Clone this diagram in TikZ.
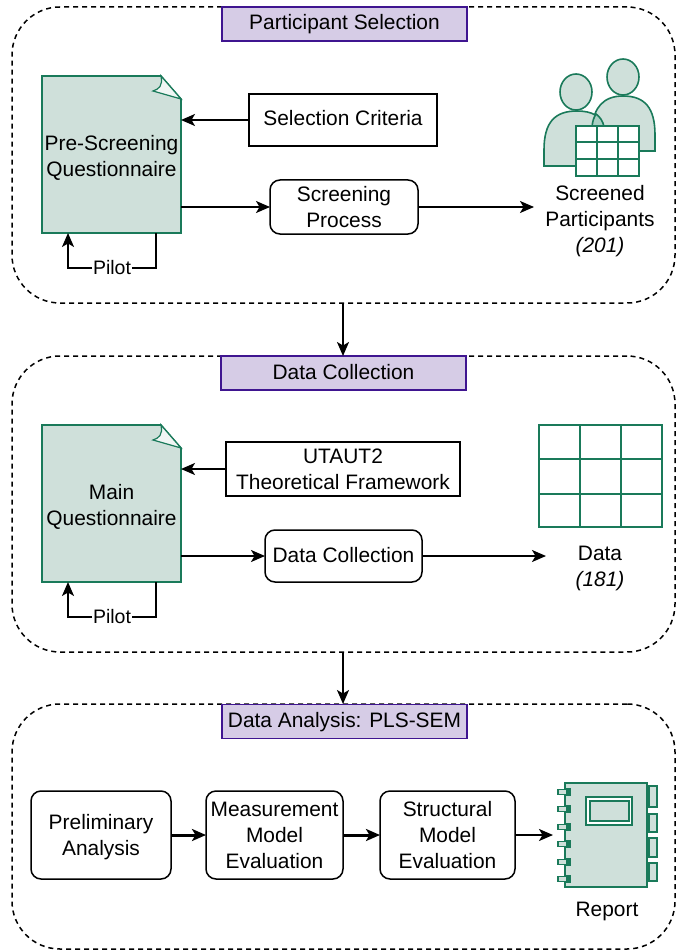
\documentclass[tikz,border=0pt]{standalone}
\usepackage{fontspec}
\setmainfont{Liberation Sans}
\usetikzlibrary{arrows.meta,calc,backgrounds}
\definecolor{leaf}{HTML}{CFE0DA}
\definecolor{leafdark}{HTML}{A9CFC3}
\definecolor{pine}{HTML}{1A7A5A}
\definecolor{lilac}{HTML}{D6CCE6}
\definecolor{violet}{HTML}{3F1590}
\tikzset{
  every node/.style={font=\fontsize{20.9}{26}\selectfont,inner sep=0pt,outer sep=0pt,align=center},
  oneline/.style={text height=15pt,text depth=3pt},
  group/.style={draw,dashed,dash pattern=on 5pt off 4pt,line width=1.5pt,rounded corners=48pt,minimum width=663pt},
  title/.style={oneline,draw=violet,fill=lilac,line width=1.5pt,minimum height=34pt},
  plainbox/.style={draw,line width=1.5pt,fill=white},
  softbox/.style={plainbox,rounded corners=10pt},
  docbox/.style={minimum width=139pt,minimum height=157pt},
  link/.style={-{Stealth[length=14pt,width=12pt,inset=3.5pt]},line width=1.7pt},
  biglink/.style={link,line width=3pt},
  pineline/.style={draw=pine,line width=1.6pt},
}
\newcommand{\docshape}[1]{
  \begin{scope}[on background layer]
    \filldraw[pineline,fill=leaf,line join=miter]
      (#1.north west) -- ($(#1.north east)+(-20,0)$) -- ($(#1.north east)+(0,23)$)
      -- (#1.south east) -- (#1.south west) -- cycle;
    \filldraw[pineline,fill=white!70!leaf,line width=1.2pt]
      ($(#1.north east)+(-20,0)$) .. controls ($(#1.north east)+(-18,10)$) and ($(#1.north east)+(-22,13)$) .. ($(#1.north east)+(-28,15)$)
      -- ($(#1.north east)+(0,23)$) -- cycle;
  \end{scope}
}
\begin{document}
\begin{tikzpicture}[x=1pt,y=-1pt]
  \useasboundingbox (0,0) rectangle (686,952);
  % groups
  \node[group,minimum height=296pt] (select) at (343.5,155) {};
  \node[group,minimum height=296pt] (collect) at (343.5,504) {};
  \node[group,minimum height=245pt] (analyse) at (343.5,826.5) {};
  \node[title,minimum width=245pt] (t1) at (344.5,24) {Participant Selection};
  \node[title,minimum width=245pt] (t2) at (343.5,373) {Data Collection};
  \node[title,minimum width=245pt] (t3) at (344.5,721.5) {Data Analysis: PLS-SEM};
  \draw[link] ([xshift=-.5pt]select.south) -- ([xshift=-.5pt]collect.north);
  \draw[link] ([xshift=-.5pt]collect.south) -- ([xshift=-.5pt]analyse.north);

  % first group
  \node[docbox,label={[yshift=-3pt]center:Pre-Screening\\Questionnaire}] (pre) at (111.5,154.5) {};
  \docshape{pre}
  \node[plainbox,oneline,minimum width=188pt,minimum height=52pt] (criteria) at (343,120) {Selection Criteria};
  \node[softbox,minimum width=148pt,minimum height=54pt] (screen) at (344,207) {Screening\\Process};
  \node (pilota) [fill=white,inner xsep=1pt,inner ysep=0pt] at (112,268) {\fontsize{19.5}{22}\selectfont Pilot};
  \node (screened) at (600,221) {Screened\\Participants\\\textit{(201)}};
  \coordinate (sink1) at (534,207);
  \draw[link] (criteria) -- (pre.east |- criteria);
  \draw[link] (pre.east |- screen) -- (screen);
  \draw[link] (screen) -- (sink1);
  \draw[link] ([xshift=44.5pt]pre.south) |- (pilota) -| ([xshift=-43.5pt]pre.south);

  % people with table
  \begin{scope}[pineline]
    \filldraw[fill=leaf] (655,151) -- (655,135) .. controls (655,108) and (645,96) .. (623,96)
      .. controls (603,96) and (594,108) .. (592,127) -- (592,151) -- cycle;
    \filldraw[fill=leaf] (623,77) ellipse (16 and 18);
    \filldraw[fill=leaf] (544,166) -- (544,150) .. controls (544,122) and (555,111) .. (577,111)
      .. controls (592,111) and (601,116) .. (604,127) -- (604,166) -- cycle;
    \filldraw[fill=leafdark] (592,127) .. controls (592.5,121) and (594,117) .. (596,114)
      .. controls (600,117) and (603,121) .. (604,127) -- cycle;
    \filldraw[fill=leaf] (576,92) ellipse (16 and 18);
    \filldraw[fill=white] (576,126) rectangle (639,176);
    \foreach \gridx in {597,618} \draw (\gridx,126) -- (\gridx,176);
    \foreach \gridy in {142,159} \draw (576,\gridy) -- (639,\gridy);
  \end{scope}

  % second group
  \node[docbox,label={[yshift=-3pt]center:Main\\Questionnaire}] (main) at (111.5,503.5) {};
  \docshape{main}
  \node[plainbox,minimum width=234pt,minimum height=54pt] (utaut) at (343,469) {UTAUT2\\Theoretical Framework};
  \node[softbox,oneline,minimum width=157pt,minimum height=52pt] (gather) at (343.5,556) {Data Collection};
  \node (pilotb) [fill=white,inner xsep=1pt,inner ysep=0pt] at (112,617) {\fontsize{19.5}{22}\selectfont Pilot};
  \node (data) at (600,568) {Data\\\textit{(181)}};
  \coordinate (sink2) at (546,556);
  \draw[link] (utaut) -- (main.east |- utaut);
  \draw[link] (main.east |- gather) -- (gather);
  \draw[link] (gather) -- (sink2);
  \draw[link] ([xshift=44.5pt]main.south) |- (pilotb) -| ([xshift=-43.5pt]main.south);

  % data table
  \begin{scope}[pineline]
    \draw (539,425) rectangle (662,527);
    \foreach \gridx in {580,621} \draw (\gridx,425) -- (\gridx,527);
    \foreach \gridy in {459,494} \draw (539,\gridy) -- (662,\gridy);
  \end{scope}

  % third group
  \node[softbox,minimum width=140pt,minimum height=88pt,label={[yshift=-2pt]center:Preliminary\\Analysis}] (prelim) at (101,835) {};
  \node[softbox,minimum width=137pt,minimum height=88pt] (measure) at (274.5,835) {Measurement\\Model\\Evaluation};
  \node[softbox,minimum width=135pt,minimum height=88pt] (struct) at (447.5,835) {Structural\\Model\\Evaluation};
  \node[draw=pine,fill=leaf,line width=1.6pt,minimum width=82pt,minimum height=104pt] (book) at (606,835) {};
  \node[oneline] (report) at (607,910) {Report};
  \coordinate (sink3) at (553,835);
  \draw[biglink] (prelim) -- (measure);
  \draw[biglink] (measure) -- (struct);
  \draw[link] (struct) -- (sink3);

  % report icon
  \begin{scope}[pineline]
    \draw[fill=white] (586,797) rectangle (632,825);
    \draw[fill=leaf] (590,801) rectangle (629,821);
    \foreach \ringy in {792,809,827,844,862,879} {
      \filldraw[fill=leaf,line width=1.2pt] (558,\ringy-2.5) rectangle (570,\ringy+2.5);
      \fill[pine] (566,\ringy-4) rectangle (571,\ringy+4);
    }
    \filldraw[fill=leaf] (649,786) rectangle (657,807);
    \filldraw[fill=leaf] (649,814) rectangle (657,832);
    \filldraw[fill=leaf] (649,838) rectangle (657,857);
    \filldraw[fill=leaf] (649,863) rectangle (657,881);
  \end{scope}
\end{tikzpicture}
\end{document}
